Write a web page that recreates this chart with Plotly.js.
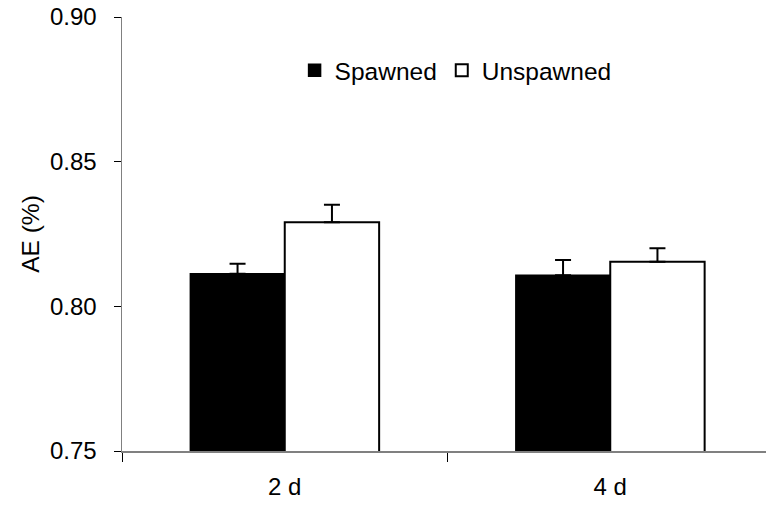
<!DOCTYPE html>
<html>
<head>
<meta charset="utf-8">
<script src="https://cdn.plot.ly/plotly-3.0.1.min.js"></script>
<style>html,body{margin:0;padding:0;background:#fff;}</style>
</head>
<body>
<div id="chart" style="width:766px;height:511px;"></div>
<script>
const categories = ["2 d", "4 d"];
const spawned = [0.8113, 0.8107];
const spawnedErr = [0.0034, 0.0053];
const unspawned = [0.8291, 0.8154];
const unspawnedErr = [0.0060, 0.0047];
const yTicks = [0.75, 0.80, 0.85, 0.90];
const yTickText = ["0.75", "0.80", "0.85", "0.90"];

const font = {family: "Liberation Sans, Arial, sans-serif", size: 24, color: "#000"};
const bigFont = {family: "Liberation Sans, Arial, sans-serif", size: 24.5, color: "#000"};

const traces = [
  {
    type: "bar", name: "Spawned", x: categories, y: spawned,
    marker: {color: "#000", line: {color: "#000", width: 1.5}},
    error_y: {type: "data", symmetric: false, array: spawnedErr, arrayminus: [0, 0],
              color: "#000", thickness: 2, width: 8}
  },
  {
    type: "bar", name: "Unspawned", x: categories, y: unspawned,
    marker: {color: "#fff", line: {color: "#000", width: 2}},
    error_y: {type: "data", symmetric: false, array: unspawnedErr, arrayminus: [0, 0],
              color: "#000", thickness: 2, width: 8}
  }
];

const layout = {
  width: 766, height: 511,
  margin: {l: 122, r: 0, t: 17, b: 60},
  paper_bgcolor: "#fff", plot_bgcolor: "#fff",
  font: font,
  barmode: "group", bargap: 0.42, bargroupgap: 0,
  showlegend: true,
  legend: {orientation: "h", x: 0.268, y: 0.877, xanchor: "left", yanchor: "middle",
           font: bigFont, bgcolor: "rgba(0,0,0,0)", itemwidth: 30, tracegroupgap: 0},
  xaxis: {
    type: "category", range: [-0.5, 1.4785], tickson: "boundaries",
    showline: true, linecolor: "#808080", linewidth: 1.5,
    ticks: "outside", ticklen: 9, tickcolor: "#000", tickwidth: 1,
    showgrid: false, zeroline: false, ticklabelstandoff: 14,
    tickfont: font
  },
  yaxis: {
    range: [0.75, 0.90], tickvals: yTicks, ticktext: yTickText,
    showline: true, linecolor: "#808080", linewidth: 1.5,
    ticks: "outside", ticklen: 7, tickcolor: "#000", tickwidth: 1,
    showgrid: false, zeroline: false, ticklabelstandoff: 12,
    tickfont: font,
    title: {text: "AE (%)", font: bigFont, standoff: 3}
  }
};

Plotly.newPlot("chart", traces, layout, {displayModeBar: false, staticPlot: true});
</script>
</body>
</html>
